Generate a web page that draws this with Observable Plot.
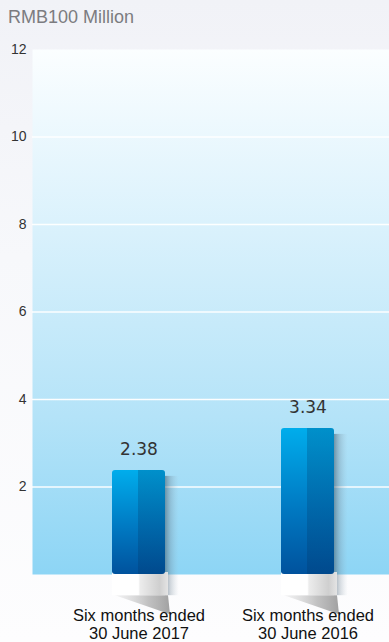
<!DOCTYPE html>
<html>
<head>
<meta charset="utf-8">
<script src="https://cdn.jsdelivr.net/npm/d3@7"></script>
<script src="https://cdn.jsdelivr.net/npm/@observablehq/plot@0.6"></script>
<style>
  html, body { margin: 0; padding: 0; }
  body {
    width: 389px; height: 642px; overflow: hidden;
    background: linear-gradient(180deg, #f1f2f7 0%, #f7f8fb 40%, #fdfdfe 100%);
    font-family: "Liberation Sans", Arial, sans-serif;
  }
  #title {
    height: 30px; box-sizing: border-box; padding: 8px 0 0 8px;
    font-size: 18px; line-height: 18px; color: #7c7c80;
  }
</style>
</head>
<body>
<div id="title">RMB100 Million</div>
<div id="chart"></div>
<script>
// Profit figures, RMB100 million
const periods = ["Six months ended\n30 June 2017", "Six months ended\n30 June 2016"];
const amounts = [2.38, 3.34];
const yTicks = [2, 4, 6, 8, 10, 12];
const yDomain = [0, 12];

const rows = periods.map((p, i) => ({period: p, amount: amounts[i]}));

// Gradient definitions used by the plot background and the bars
const defs = () => {
  const g = d3.create("svg:defs");
  const lin = (id, x2, y2, stops) => {
    const el = g.append("linearGradient").attr("id", id)
      .attr("x1", 0).attr("y1", 0).attr("x2", x2).attr("y2", y2);
    stops.forEach(([o, c, a = 1]) =>
      el.append("stop").attr("offset", o).attr("stop-color", c).attr("stop-opacity", a));
  };
  lin("bg", 0, 1, [[0, "#fbfeff"], [0.35, "#d9f1fc"], [0.7, "#b4e3f8"], [1, "#8dd5f5"]]);
  lin("face", 0, 1, [[0, "#00adec"], [0.55, "#0079c2"], [1, "#00529d"]]);
  lin("split", 1, 0, [[0, "#001c40", 0], [0.5, "#001c40", 0], [0.5, "#002a55", 0.22], [1, "#002a55", 0.22]]);
  lin("side", 1, 0, [[0, "#3d5566", 0.55], [0.4, "#6c8090", 0.3], [1, "#9fb3c0", 0]]);
  lin("base", 1, 0, [[0, "#ffffff"], [0.47, "#ffffff"], [0.5, "#ececec"], [0.85, "#cfcfcf"], [1, "#e4e4e4"]]);
  lin("wedge", 1, 0, [[0, "#c8c8c8", 0.2], [0.6, "#9a9a9a", 0.6], [1, "#8a8a8a", 0.8]]);
  return g.node();
};

// Width of a band of the x scale, however the scale exposes it
const bandOf = (scales) => {
  const b = scales.x.bandwidth ?? scales.scales?.x?.bandwidth;
  return typeof b === "function" ? b() : b;
};

// Shadow on the right of each bar, white base below it and its cast shadow
const decor = (index, scales) => {
  const g = d3.create("svg:g");
  const bw = bandOf(scales);
  const y0 = scales.y(0);
  for (const r of rows) {
    const x0 = scales.x(r.period);
    const yt = scales.y(r.amount);
    const h = bw * 0.4;
    g.append("rect").attr("x", x0 + bw).attr("y", yt + 6)
      .attr("width", bw * 0.26).attr("height", y0 - yt - 6 + h)
      .attr("fill", "url(#side)");
    g.append("path")
      .attr("d", `M${x0 + 3},${y0 + h}L${x0 + bw + 3},${y0 + h}L${x0 + bw + 5},${y0 + bw * 0.76}Z`)
      .attr("fill", "url(#wedge)");
    g.append("rect").attr("x", x0).attr("y", y0 - 2)
      .attr("width", bw + 3).attr("height", h + 2)
      .attr("fill", "url(#base)");
  }
  return g.node();
};

const plot = Plot.plot({
  width: 389,
  height: 612,
  marginTop: 19,
  marginBottom: 68,
  marginLeft: 32,
  marginRight: 0,
  style: {background: "transparent", fontSize: "14px", fontFamily: "Liberation Sans, Arial, sans-serif", color: "#333"},
  x: {domain: periods, range: [57, 389], paddingInner: 0.686, paddingOuter: 0.325, axis: null},
  y: {domain: yDomain, ticks: yTicks, tickSize: 0, tickPadding: 6, label: null},
  marks: [
    defs,
    Plot.frame({fill: "url(#bg)", stroke: "none"}),
    Plot.ruleY(yTicks.slice(0, -1), {stroke: "#ffffff", strokeWidth: 1.6, strokeOpacity: 0.95}),
    decor,
    Plot.barY(rows, {x: "period", y: "amount", fill: "url(#face)", rx: 3}),
    Plot.barY(rows, {x: "period", y: "amount", fill: "url(#split)", rx: 3}),
    Plot.text(rows, {x: "period", y: "amount", text: d => d.amount.toFixed(2),
      lineAnchor: "bottom", dy: -15, fontSize: 17, fill: "#333",
      fontFamily: "DejaVu Sans, sans-serif"}),
    Plot.text(rows, {x: "period", text: "period", frameAnchor: "bottom", lineAnchor: "top",
      dy: 33, fontSize: 16.5, lineHeight: 1.12, fill: "#111"})
  ]
});
document.getElementById("chart").append(plot);
</script>
</body>
</html>
